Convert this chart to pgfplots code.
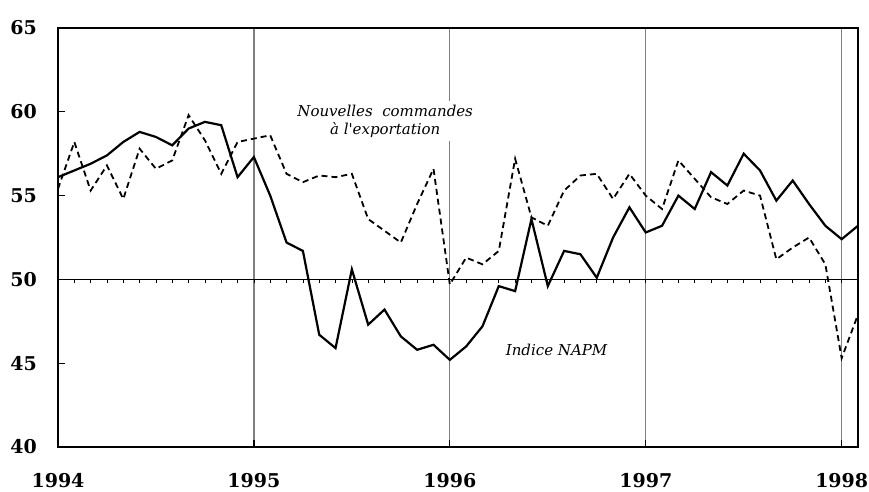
\documentclass[border=0pt]{standalone}
\usepackage{fontspec}
\setmainfont{DejaVu Serif}
\usepackage{pgfplots}
\pgfplotsset{compat=1.18}
\usepackage{pgfplotstable}

\pgfplotstableread{
i napm exp
0 56.1 55.4
1 56.5 58.2
2 56.9 55.3
3 57.4 56.8
4 58.2 54.8
5 58.8 57.8
6 58.5 56.6
7 58.0 57.1
8 59.0 59.8
9 59.4 58.3
10 59.2 56.3
11 56.1 58.2
12 57.3 58.4
13 55.0 58.6
14 52.2 56.3
15 51.7 55.8
16 46.7 56.2
17 45.9 56.1
18 50.6 56.3
19 47.3 53.6
20 48.2 52.9
21 46.6 52.2
22 45.8 54.5
23 46.1 56.6
24 45.2 49.7
25 46.0 51.3
26 47.2 50.9
27 49.6 51.7
28 49.3 57.2
29 53.6 53.7
30 49.6 53.2
31 51.7 55.3
32 51.5 56.2
33 50.1 56.3
34 52.5 54.8
35 54.3 56.3
36 52.8 55.0
37 53.2 54.2
38 55.0 57.1
39 54.2 56.0
40 56.4 54.9
41 55.6 54.5
42 57.5 55.3
43 56.5 55.0
44 54.7 51.2
45 55.9 51.9
46 54.5 52.5
47 53.2 50.9
48 52.4 45.3
49 53.2 47.9
}\data

\begin{document}
\begin{tikzpicture}
\path[use as bounding box] (-58pt,-44pt) rectangle (811pt,447pt);
\begin{axis}[
  at={(0,0)}, anchor=south west,
  scale only axis, width=800pt, height=419pt,
  xmin=1994, xmax=1998.0833, ymin=40, ymax=65,
  xtick={1994,1995,1996,1997,1998},
  xticklabels={1994,1995,1996,1997,1998},
  ytick={40,45,50,55,60,65},
  tick align=inside, major tick length=7pt,
  xtick pos=bottom, ytick pos=left,
  xmajorgrids,
  major grid style={draw=black!50, line width=1.2pt},
  axis line style={line width=1.4pt},
  major tick style={black, line width=1.3pt},
  tick label style={font=\fontsize{19}{20}\selectfont\bfseries, inner sep=0pt},
  xticklabel style={anchor=north, yshift=-26pt},
  yticklabel style={anchor=east, xshift=-21pt},
  /pgf/number format/assume math mode=true,
]
\addplot[black, line width=1.3pt] coordinates {(1994,50) (1998.0833,50)};
\addplot[draw=none, mark=|, mark size=1.6pt, mark options={black, line width=0.7pt, yshift=-1.6pt}]
  table[x expr=1994+\thisrow{i}/12, y expr=50] {\data};
\addplot[black, line width=1.8pt, dash pattern=on 6pt off 4pt] table[x expr=1994+\thisrow{i}/12, y=exp] {\data};
\addplot[black, line width=2.2pt] table[x expr=1994+\thisrow{i}/12, y=napm] {\data};
\node[fill=white, align=center, inner sep=4pt, font=\fontsize{15}{18}\selectfont\itshape\addfontfeatures{Ligatures=TeXOff}] at (axis cs:1995.67,59.45) {Nouvelles\ \ commandes\\à l'exportation};
\node[font=\fontsize{15}{18}\selectfont\itshape] at (axis cs:1996.545,45.79) {Indice NAPM};
\end{axis}
\end{tikzpicture}
\end{document}
